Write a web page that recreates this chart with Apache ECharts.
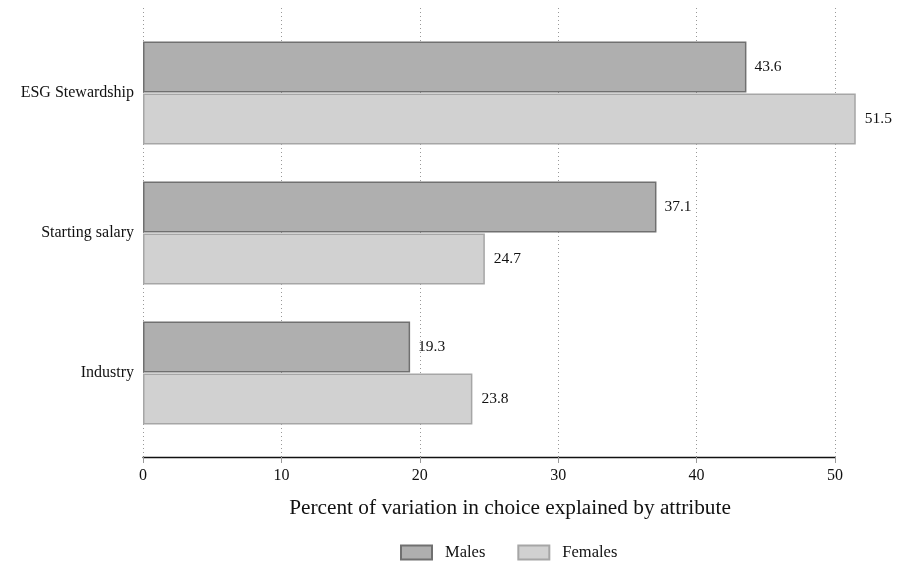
<!DOCTYPE html>
<html><head><meta charset="utf-8">
<script src="https://cdn.jsdelivr.net/npm/echarts@6/dist/echarts.min.js"></script>
<style>html,body{margin:0;padding:0;background:#fff}#c{width:901px;height:569px}</style>
</head><body><div id="c"></div>
<script>
const categories = ['Industry', 'Starting salary', 'ESG Stewardship'];
const males = [19.3, 37.1, 43.6];
const females = [23.8, 24.7, 51.5];
const xTicks = [0, 10, 20, 30, 40, 50];
const seriesNames = ['Males', 'Females'];
const axisTitle = 'Percent of variation in choice explained by attribute';

const FONT = '"Liberation Serif", "Times New Roman", serif';
const chart = echarts.init(document.getElementById('c'));
chart.setOption({
  backgroundColor: '#fff',
  animation: false,
  textStyle: { fontFamily: FONT },
  grid: [
    { left: 143, right: 66, top: 23, height: 420, containLabel: false },
    { left: 143, right: 66, top: 8, height: 449, containLabel: false }
  ],
  xAxis: [
    { gridIndex: 0, type: 'value', min: xTicks[0], max: xTicks[xTicks.length - 1], interval: 10,
      show: false },
    { gridIndex: 1, type: 'value', min: xTicks[0], max: xTicks[xTicks.length - 1], interval: 10,
      name: axisTitle, nameLocation: 'middle', nameGap: 41,
      nameTextStyle: { fontFamily: FONT, fontSize: 21.3, color: '#111', padding: [0, 0, 0, 42] },
      axisLine: { show: true, lineStyle: { color: '#111', width: 1.3 } },
      axisTick: { show: true, length: 6, lineStyle: { color: '#999' } },
      axisLabel: { fontFamily: FONT, fontSize: 16, color: '#111', margin: 11 },
      splitLine: { show: true, lineStyle: { color: '#999', type: [1, 3], width: 1 } } }
  ],
  yAxis: [
    { gridIndex: 0, type: 'category', data: categories,
      axisLine: { show: false }, axisTick: { show: false },
      axisLabel: { fontFamily: FONT, fontSize: 16, color: '#111', margin: 9 } },
    { gridIndex: 1, type: 'value', show: false }
  ],
  legend: {
    bottom: 3, left: 395, itemWidth: 31, itemHeight: 14, itemGap: 32,
    icon: 'rect',
    data: seriesNames,
    textStyle: { fontFamily: FONT, fontSize: 16.5, color: '#111', padding: [0, 0, 0, 8] }
  },
  series: [
    { name: seriesNames[0], type: 'bar', xAxisIndex: 0, yAxisIndex: 0, data: males,
      barWidth: 51, barGap: '2%', clip: false, z: 5,
      itemStyle: { color: '#afafaf', borderColor: '#707070', borderWidth: 1.5 },
      label: { show: true, position: 'right', distance: 8, fontFamily: FONT, fontSize: 15.5, color: '#111' } },
    { name: seriesNames[1], type: 'bar', xAxisIndex: 0, yAxisIndex: 0, data: females,
      barWidth: 51, barGap: '2%', clip: false, z: 5,
      itemStyle: { color: '#d1d1d1', borderColor: '#a6a6a6', borderWidth: 1.5 },
      label: { show: true, position: 'right', distance: 9, fontFamily: FONT, fontSize: 15.5, color: '#111' } }
  ]
});
</script></body></html>
